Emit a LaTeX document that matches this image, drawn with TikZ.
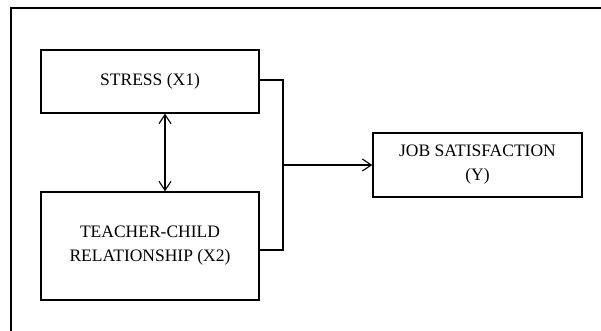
\documentclass[tikz,border=0pt]{standalone}
\usepackage{fontspec}
\setmainfont{Liberation Serif}
\usepackage{tikz}
\usetikzlibrary{arrows.meta,positioning,calc}

\tikzset{
  varbox/.style={draw, line width=1.4pt, inner sep=0pt, align=center,
    font=\fontsize{17.5}{24}\selectfont},
  link/.style={line width=1.1pt},
  barb/.tip={Straight Barb[length=9pt,width=12pt,line width=1.1pt]}
}

\begin{document}
\begin{tikzpicture}[x=1pt, y=-1pt]
\useasboundingbox (0,0) rectangle (601,331);

% outer frame
\draw[line width=1.5pt] (11,331) -- (11,8) -- (601,8);

% variables
\node[varbox, minimum width=218pt, minimum height=63pt] (stress) at (150,81.5) {STRESS (X1)};
\node[varbox, minimum width=218pt, minimum height=108pt] (tcr) at (150,246) {TEACHER-CHILD\\RELATIONSHIP (X2)};
\node[varbox, minimum width=209pt, minimum height=64pt] (job) at (477.5,165) {JOB SATISFACTION\\(Y)};

% correlation between X1 and X2
\coordinate (mid) at (165,0);
\draw[link, barb-barb] (stress.south -| mid) -- (tcr.north -| mid);

% joint effect on Y
\coordinate (top) at (283,80);
\coordinate (bot) at (283,250);
\draw[link] (stress.east |- top) -- (top) -- (bot) -- (tcr.east |- bot);
\draw[link, -barb] (job.west -| top) -- (job.west);

\end{tikzpicture}
\end{document}
